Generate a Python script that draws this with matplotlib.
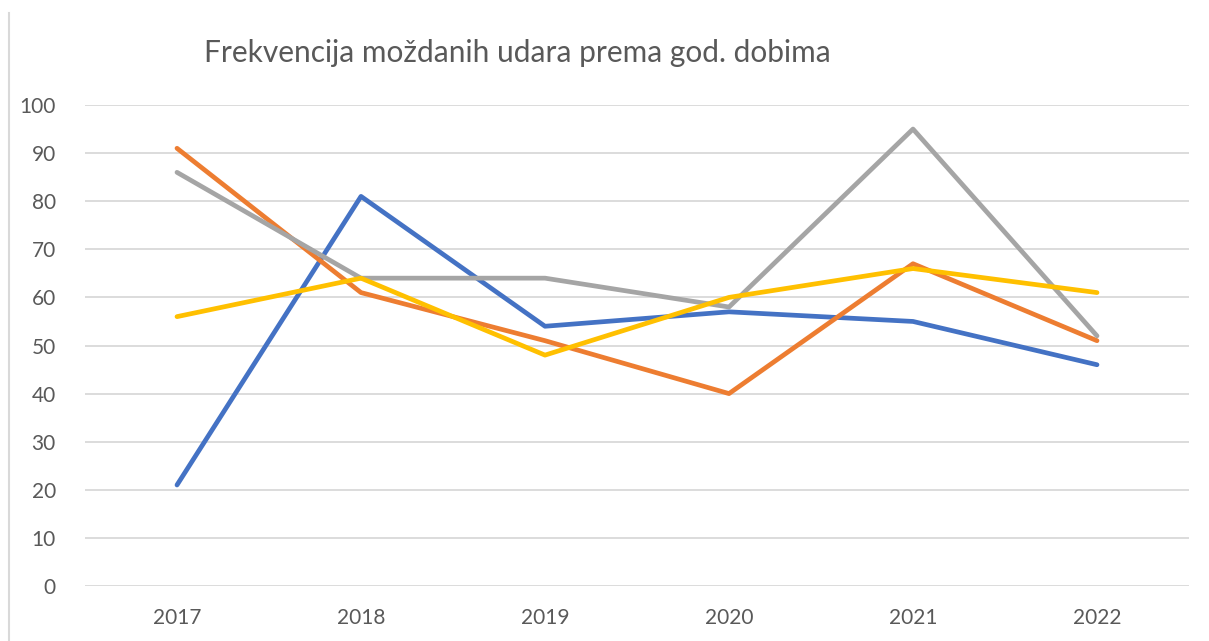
import matplotlib
matplotlib.use("Agg")
from matplotlib import pyplot as plt
from matplotlib.lines import Line2D

plt.rcParams['font.family'] = ['Lato', 'DejaVu Sans']

godine = ['2017', '2018', '2019', '2020', '2021', '2022']
plava = [21, 81, 54, 57, 55, 46]
narancasta = [91, 61, 51, 40, 67, 51]
siva = [86, 64, 64, 58, 95, 52]
zuta = [56, 64, 48, 60, 66, 61]

boje = ['#4472C4', '#ED7D31', '#A5A5A5', '#FFC000']
serije = [plava, narancasta, siva, zuta]

fig = plt.figure(figsize=(12.09, 6.41), dpi=100)
ax = fig.add_axes([85/1209, 1-586/641, (1189-85)/1209, (586-105)/641])

x = range(len(godine))
for vals, c in zip(serije, boje):
    ax.plot(x, vals, color=c, lw=3.4, solid_capstyle='round', solid_joinstyle='round')

ax.set_xlim(-0.5, len(godine)-0.5)
ax.set_ylim(0, 100)
ax.set_yticks(range(0, 101, 10))
ax.set_xticks(list(x))
ax.set_xticklabels(godine)
ax.grid(axis='y', color='#D9D9D9', lw=1.3)
ax.set_axisbelow(True)
for s in ax.spines.values():
    s.set_visible(False)
ax.tick_params(length=0, labelsize=15, colors='#595959')
ax.tick_params(axis='y', pad=21)
ax.tick_params(axis='x', pad=16)

fig.text(204/1209, 1-53/641, 'Frekvencija moždanih udara prema god. dobima',
         fontsize=21.5, color='#595959', va='center', ha='left')

# rub okvira lijevo
fig.add_artist(Line2D([9/1209, 9/1209], [0, 1-13/641], color='#D9D9D9', lw=1.5))

fig.savefig('out.png', dpi=100)
